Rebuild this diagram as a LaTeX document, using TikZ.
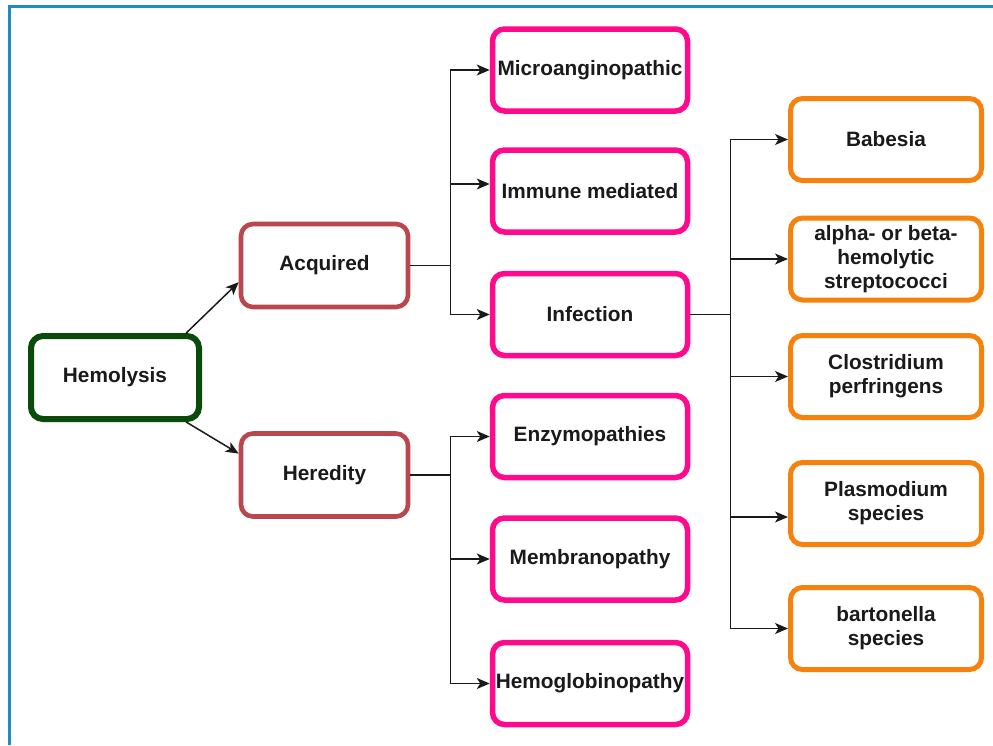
\documentclass[tikz,border=0pt]{standalone}
\usepackage{fontspec}
\setmainfont{Liberation Sans}
\usetikzlibrary{arrows.meta}

\definecolor{hemgreen}{HTML}{0A4A0A}
\definecolor{causered}{HTML}{BA474D}
\definecolor{typepink}{HTML}{FF0A8C}
\definecolor{agentorange}{HTML}{F5820D}
\definecolor{frameblue}{HTML}{1E8BC6}
\definecolor{txt}{HTML}{1A1A1A}

\begin{document}
\begin{tikzpicture}[x=1pt, y=-1pt,
    box/.style={rectangle, rounded corners=12pt, fill=white, inner sep=0pt, align=center,
        text=txt, font=\fontsize{20.8}{24}\selectfont\bfseries},
    rootbox/.style={box, draw=hemgreen, line width=6pt, minimum width=168pt, minimum height=83pt},
    causebox/.style={box, draw=causered, line width=4.6pt, minimum width=167pt, minimum height=83pt},
    typebox/.style={box, draw=typepink, line width=5.5pt, minimum width=195pt, minimum height=82pt},
    agentbox/.style={box, draw=agentorange, line width=5pt, minimum width=191pt, minimum height=82pt},
    link/.style={-{Stealth[length=13pt, width=11pt, inset=3.5pt]}, line width=1.5pt, draw=txt}]

    % Page and frame
    \useasboundingbox (0,0) rectangle (993,745);
    \draw[frameblue, line width=3pt] (9,745) -- (9,6) -- (993,6);

    % Root and causes
    \node[rootbox] (hem) at (115,377.5) {Hemolysis};
    \node[causebox] (acq) at (324.5,265.5) {Acquired};
    \node[causebox] (her) at (324.5,475) {Heredity};

    % Types
    \node[typebox] (micro) at (590,70) {Microanginopathic};
    \node[typebox] (imm) at (590,191) {Immune mediated};
    \node[typebox] (inf) at (590,314.5) {Infection};
    \node[typebox] (enz) at (590,436.5) {Enzymopathies};
    \node[typebox] (mem) at (590,559) {Membranopathy};
    \node[typebox] (hgb) at (590,683.5) {Hemoglobinopathy};

    % Infectious agents
    \node[agentbox] (bab) at (886,139.5) {Babesia};
    \node[agentbox] (strep) at (886,259) {alpha- or beta-\\hemolytic\\streptococci};
    \node[agentbox] (clos) at (886,376.5) {Clostridium\\perfringens};
    \node[agentbox] (plas) at (886,503.5) {Plasmodium\\species};
    \node[agentbox] (bart) at (886,628.5) {bartonella\\species};

    % Connectors
    \draw[link] (hem.32) -- (acq.191);
    \draw[link] (hem.-32) -- (her.166);

    \draw[link] (acq.east) -- ++(40,0) |- (micro.west);
    \draw[link] (acq.east) -- ++(40,0) |- ([yshift=7pt]imm.west);
    \draw[link] (acq.east) -- ++(40,0) |- (inf.west);

    \draw[link] (her.east) -- ++(40,0) |- (enz.west);
    \draw[link] (her.east) -- ++(40,0) |- (mem.west);
    \draw[link] (her.east) -- ++(40,0) |- (hgb.west);

    \draw[link] (inf.east) -- ++(40,0) |- (bab.west);
    \draw[link] (inf.east) -- ++(40,0) |- (strep.west);
    \draw[link] (inf.east) -- ++(40,0) |- (clos.west);
    \draw[link] (inf.east) -- ++(40,0) |- ([yshift=-13.5pt]plas.west);
    \draw[link] (inf.east) -- ++(40,0) |- (bart.west);
\end{tikzpicture}
\end{document}
